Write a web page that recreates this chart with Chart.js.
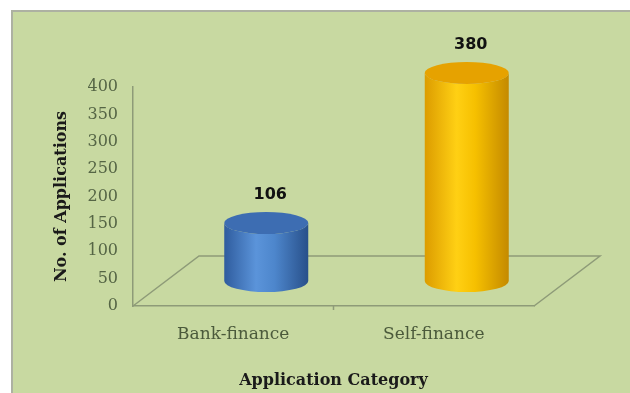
<!DOCTYPE html>
<html>
<head>
<meta charset="utf-8">
<script src="https://cdn.jsdelivr.net/npm/chart.js@4"></script>
<style>
  html, body { margin: 0; padding: 0; background: #fff; }
  canvas { display: block; }
</style>
</head>
<body>
<canvas id="myChart" width="630" height="393"></canvas>
<script>
var categories = ['Bank-finance', 'Self-finance'];
var applications = [106, 380];
// [dark edge, highlight, mid, dark edge, top face]
var cylinderColors = [
  ['#2f5c9e', '#5b94da', '#4d86cc', '#28508a', '#3d6db2'],
  ['#dc9c00', '#ffd014', '#f6c000', '#c48a00', '#e6a200']
];

var axisColor = '#8e9b78';
var floorDepth = { x: 66, y: 50 };   // full depth of the 3D floor
var cylRy = 11;                       // vertical radius of the cylinder ends

function cylinderGradient(ctx, left, right, c) {
  var g = ctx.createLinearGradient(left, 0, right, 0);
  g.addColorStop(0, c[0]);
  g.addColorStop(0.38, c[1]);
  g.addColorStop(0.6, c[2]);
  g.addColorStop(1, c[3]);
  return g;
}

var panelBackground = {
  id: 'panelBackground',
  beforeDraw: function(chart) {
    var ctx = chart.ctx;
    ctx.save();
    ctx.fillStyle = '#ffffff';
    ctx.fillRect(0, 0, chart.width, chart.height);
    ctx.fillStyle = '#c8d9a1';
    ctx.fillRect(12, 11, chart.width, chart.height);
    ctx.strokeStyle = '#adb1a2';
    ctx.lineWidth = 2;
    ctx.beginPath();
    ctx.moveTo(12, chart.height);
    ctx.lineTo(12, 11);
    ctx.lineTo(chart.width, 11);
    ctx.stroke();
    ctx.restore();
  }
};

// floor parallelogram behind the bars
var floor3d = {
  id: 'floor3d',
  beforeDatasetsDraw: function(chart) {
    var a = chart.chartArea, ctx = chart.ctx;
    var x = chart.scales.x;
    ctx.save();
    ctx.strokeStyle = axisColor;
    ctx.lineWidth = 1.5;
    ctx.beginPath();
    ctx.moveTo(a.left, a.bottom);
    ctx.lineTo(a.left + floorDepth.x, a.bottom - floorDepth.y);
    ctx.lineTo(a.right + floorDepth.x, a.bottom - floorDepth.y);
    ctx.lineTo(a.right, a.bottom);
    ctx.stroke();
    // category separator tick
    var mid = (x.getPixelForValue(0) + x.getPixelForValue(1)) / 2;
    ctx.beginPath();
    ctx.moveTo(mid, a.bottom);
    ctx.lineTo(mid, a.bottom + 4);
    ctx.stroke();
    ctx.restore();
  }
};

var cylinders = {
  id: 'cylinders',
  afterDatasetsDraw: function(chart) {
    var ctx = chart.ctx;
    var meta = chart.getDatasetMeta(0);
    var dx = floorDepth.x / 2, dy = -floorDepth.y / 2;
    meta.data.forEach(function(bar, i) {
      var c = cylinderColors[i];
      var cx = bar.x + dx;
      var rx = bar.width / 2;
      var top = bar.y + dy;
      var bottom = bar.base + dy;
      var left = cx - rx, right = cx + rx;
      ctx.save();
      // body
      ctx.beginPath();
      ctx.moveTo(left, top);
      ctx.lineTo(left, bottom);
      ctx.ellipse(cx, bottom, rx, cylRy, 0, Math.PI, 0, true);
      ctx.lineTo(right, top);
      ctx.ellipse(cx, top, rx, cylRy, 0, 0, Math.PI, false);
      ctx.closePath();
      ctx.fillStyle = cylinderGradient(ctx, left, right, c);
      ctx.fill();
      // top face
      ctx.beginPath();
      ctx.ellipse(cx, top, rx, cylRy, 0, 0, Math.PI * 2);
      ctx.fillStyle = c[4];
      ctx.fill();
      // value label
      ctx.fillStyle = '#111';
      ctx.font = 'bold 16px "DejaVu Sans"';
      ctx.textAlign = 'center';
      ctx.textBaseline = 'middle';
      ctx.fillText(String(applications[i]), cx + 4, top - cylRy - 17);
      ctx.restore();
    });
  }
};

var ctx = document.getElementById('myChart').getContext('2d');
var myChart = new Chart(ctx, {
  type: 'bar',
  data: {
    labels: categories,
    datasets: [{
      data: applications,
      backgroundColor: 'rgba(0,0,0,0)',
      borderWidth: 0,
      barThickness: 84
    }]
  },
  options: {
    responsive: false,
    animation: false,
    devicePixelRatio: 1,
    layout: { padding: { left: 0, right: 96, top: 87, bottom: 0 } },
    plugins: {
      legend: { display: false },
      tooltip: { enabled: false }
    },
    scales: {
      x: {
        grid: { display: false, drawTicks: false },
        border: { display: true, color: axisColor, width: 1.5 },
        ticks: {
          color: '#4b5a3b',
          font: { family: 'DejaVu Serif', size: 17 },
          padding: 18
        },
        title: {
          display: true,
          text: 'Application Category',
          color: '#1a1a1a',
          font: { family: 'DejaVu Serif', size: 16, weight: 'bold' },
          padding: { top: 0, bottom: 3 }
        },
        afterFit: function(s) { s.height = 87; }
      },
      y: {
        min: 0,
        max: 400,
        grid: { display: false, drawTicks: false },
        border: { display: true, color: axisColor, width: 1.5 },
        ticks: {
          stepSize: 50,
          color: '#556545',
          font: { family: 'DejaVu Serif', size: 16 },
          padding: 15
        },
        title: {
          display: true,
          text: 'No. of Applications',
          color: '#1a1a1a',
          font: { family: 'DejaVu Serif', size: 16, weight: 'bold' },
          padding: { top: 52, bottom: 0 }
        },
        afterFit: function(s) { s.width = 133; }
      }
    }
  },
  plugins: [panelBackground, floor3d, cylinders]
});
</script>
</body>
</html>
